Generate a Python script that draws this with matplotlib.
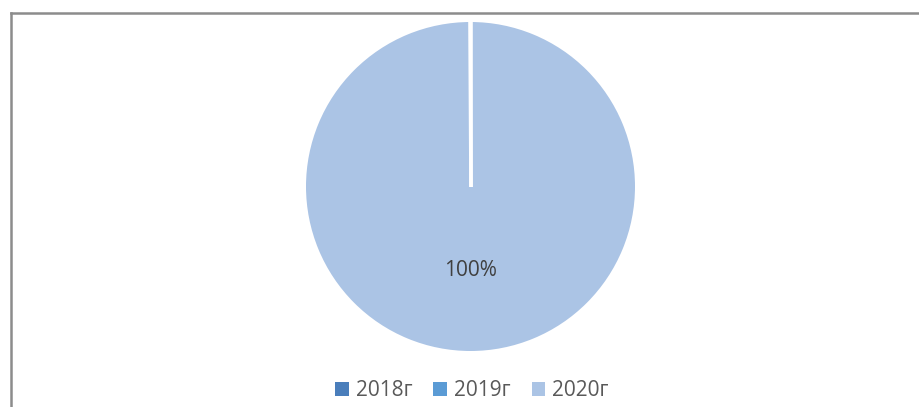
import matplotlib
matplotlib.use("Agg")
import numpy as np
import matplotlib.pyplot as plt
from matplotlib.lines import Line2D

categories = ["2018г", "2019г", "2020г"]
values = [0, 0, 100]
colors = ["#4a7ebb", "#5b9bd5", "#abc4e5"]

plt.rcParams['font.family'] = ['Open Sans', 'DejaVu Sans']

W, H = 920, 407
fig = plt.figure(figsize=(W / 100, H / 100), dpi=100)
fig.patch.set_facecolor("white")

# frame lines (left and top)
fig.add_artist(Line2D([11 / W, 11 / W], [0, 1 - 13 / H], color="#8c8c8c", lw=1.8,
                      transform=fig.transFigure))
fig.add_artist(Line2D([11 / W, 1], [1 - 13 / H, 1 - 13 / H], color="#8c8c8c", lw=1.8,
                      transform=fig.transFigure))

cx, cy, r = 470.5, 186.5, 164.5
ax = fig.add_axes([(cx - r) / W, (H - cy - r) / H, 2 * r / W, 2 * r / H])

def fmt(p):
    return f"{p:.0f}%" if p > 0 else ""

wedges, texts, autotexts = ax.pie(values, colors=colors, startangle=90, counterclock=False,
                                  autopct=fmt, pctdistance=0.51, radius=1,
                                  wedgeprops=dict(edgecolor="white", linewidth=0),
                                  textprops=dict(fontsize=15, color="#404040"))
# white separator at the boundary of the (zero-size) slices
for w, v in zip(wedges, values):
    if v == 0:
        t = np.deg2rad(w.theta1)
        ax.plot([0, np.cos(t)], [0, np.sin(t)], color="white", lw=2.6,
                solid_capstyle="butt", zorder=5)
ax.set_xlim(-1, 1)
ax.set_ylim(-1, 1)
ax.set_aspect("equal")
ax.axis("off")

fig.legend(wedges, categories, loc="center", bbox_to_anchor=(472 / W, 1 - 391 / H),
           ncol=3, frameon=False, fontsize=15, handlelength=0.65, handleheight=0.65,
           handletextpad=0.35, columnspacing=1.0, labelcolor="#595959")

fig.savefig("out.png", dpi=100, facecolor="white")
